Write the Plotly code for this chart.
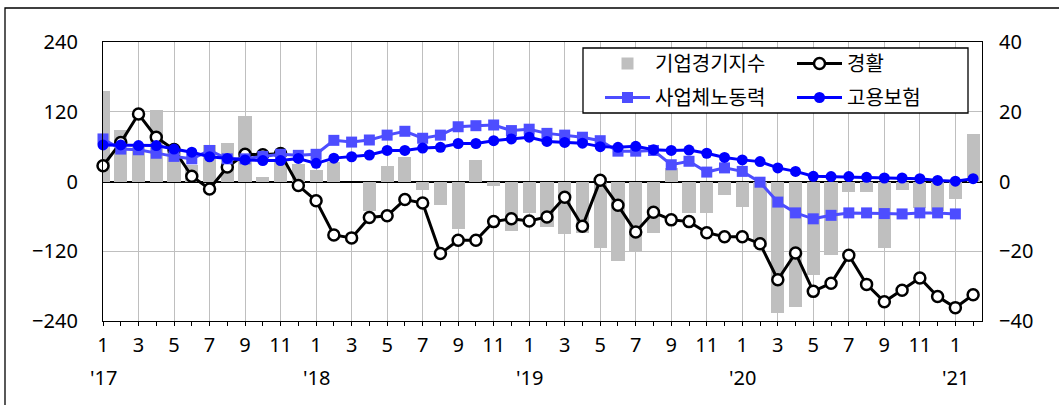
import plotly.graph_objects as go

# Monthly periods, Jan 2017 - Feb 2021
months = [f"{y}-{m:02d}" for y in range(2017, 2022) for m in range(1, 13)][:50]

# 기업경기지수 (left axis)
business_index = [156, 88, 60, 123, 55, 28, 62, 67, 113, 7, 38, 30,
                  20, 33, 0, -50, 27, 42, -14, -41, -81, 37, -7, -86,
                  -54, -79, -90, -89, -115, -137, -121, -88, 23, -55, -55, -23,
                  -44, -113, -227, -216, -160, -127, -18, -18, -114, -15, -46, -50,
                  -30, 82]

# 경활 (left axis)
labor_survey = [27, 67, 116, 76, 55, 9, -13, 25, 47, 46, 48, -7,
                -33, -92, -97, -62, -59, -31, -37, -124, -101, -101, -69, -64,
                -68, -61, -27, -77, 2, -41, -87, -53, -66, -69, -88, -95,
                -95, -107, -169, -123, -189, -175, -127, -177, -207, -187, -166, -198,
                -217, -195]

# 사업체노동력 (right axis)
establishment = [12.2, 9.3, 9.1, 8.1, 7.2, 6.5, 8.9, 6.5, 6.5, 7.2, 7.8, 7.5,
                 7.8, 11.8, 11.3, 11.9, 13.3, 14.4, 12.4, 13.3, 15.7, 16.0, 16.2, 14.6,
                 15.0, 13.8, 13.3, 12.7, 11.7, 8.7, 8.7, 8.9, 4.8, 5.8, 2.7, 3.9,
                 2.9, -0.2, -5.9, -9.0, -10.7, -9.7, -9.0, -9.0, -9.2, -9.3, -9.0, -9.0,
                 -9.3, None]

# 고용보험 (right axis)
insurance = [10.5, 10.5, 10.3, 10.3, 9.3, 8.4, 7.1, 6.6, 6.2, 6.0, 6.0, 6.6,
             5.2, 6.7, 7.1, 7.6, 8.9, 8.9, 9.6, 9.8, 10.9, 10.9, 11.7, 12.2,
             12.7, 11.5, 11.2, 11.0, 10.0, 9.8, 10.1, 9.1, 8.9, 9.0, 8.1, 6.9,
             6.2, 5.7, 3.9, 2.9, 1.5, 1.4, 1.4, 1.2, 1.0, 1.0, 0.8, 0.3,
             0.1, 0.8]

left_ticks = [-240, -120, 0, 120, 240]
right_ticks = [-40, -20, 0, 20, 40]

x = list(range(len(months)))
month_ticks = [i for i, m in enumerate(months) if int(m[5:]) % 2 == 1]
month_text = [str(int(months[i][5:])) for i in month_ticks]
year_ticks = [i for i, m in enumerate(months) if m.endswith("-01")]
year_text = ["'" + months[i][2:4] for i in year_ticks]

NUM_FONT = "Noto Sans, Liberation Sans, sans-serif"
KR_FONT = "Noto Sans CJK KR, sans-serif"
LIGHT_BLUE = "#4d4dff"
BLUE = "#0000ff"

fig = go.Figure()

fig.add_trace(go.Bar(
    x=x, y=business_index, name="기업경기지수", width=0.74,
    marker=dict(color="#bfbfbf", line=dict(width=0)),
    legend="legend", legendgroup="a",
))
fig.add_trace(go.Scatter(
    x=x, y=labor_survey, name="경활", mode="lines+markers", cliponaxis=False,
    line=dict(color="black", width=3),
    marker=dict(symbol="circle", size=11, color="white", line=dict(color="black", width=2.5)),
    legend="legend2", legendgroup="b",
))
fig.add_trace(go.Scatter(
    x=x, y=establishment, name="사업체노동력", yaxis="y2", mode="lines+markers", cliponaxis=False,
    line=dict(color=LIGHT_BLUE, width=3),
    marker=dict(symbol="square", size=11, color=LIGHT_BLUE),
    legend="legend", legendgroup="c",
))
fig.add_trace(go.Scatter(
    x=x, y=insurance, name="고용보험", yaxis="y2", mode="lines+markers", cliponaxis=False,
    line=dict(color=BLUE, width=3),
    marker=dict(symbol="circle", size=11, color=BLUE),
    legend="legend2", legendgroup="d",
))

L, R, T, B = 103, 77, 42, 84
W, H = 1059, 405
pw, ph = W - L - R, H - T - B


def px_x(p):
    return (p - L) / pw


def px_y(p):
    return (H - B - p) / ph


shapes = [
    # outer frame
    dict(type="rect", xref="paper", yref="paper", layer="below",
         x0=px_x(5), x1=px_x(1064), y0=px_y(410), y1=px_y(8),
         line=dict(color="black", width=1.3), fillcolor="rgba(0,0,0,0)"),
    # legend box
    dict(type="rect", xref="paper", yref="paper", layer="above",
         x0=px_x(583), x1=px_x(968), y0=px_y(113), y1=px_y(48),
         line=dict(color="black", width=1.3), fillcolor="white"),
]

annotations = [
    dict(x=xi, y=px_y(377), xref="x", yref="paper", text=t, showarrow=False,
         xanchor="center", yanchor="middle", font=dict(family=NUM_FONT, size=20, color="black"))
    for xi, t in zip(year_ticks, year_text)
]

legend_common = dict(
    xanchor="left", yanchor="top", bgcolor="rgba(0,0,0,0)", borderwidth=0,
    font=dict(family=KR_FONT, size=20, color="black"), itemwidth=45,
    traceorder="grouped", tracegroupgap=5,
)

fig.update_layout(
    width=W, height=H,
    margin=dict(l=L, r=R, t=T, b=B, pad=0),
    paper_bgcolor="white", plot_bgcolor="white",
    bargap=0, showlegend=True,
    legend=dict(x=px_x(600), y=px_y(44), **legend_common),
    legend2=dict(x=px_x(792), y=px_y(44), **legend_common),
    shapes=shapes, annotations=annotations,
    xaxis=dict(
        range=[0, len(months) - 0.5], tickmode="array",
        tickvals=month_ticks, ticktext=month_text,
        showgrid=True, gridcolor="#bfbfbf", gridwidth=1,
        showline=True, linecolor="black", linewidth=1.3, mirror=True,
        ticks="outside", ticklen=4, tickcolor="black", ticklabelstandoff=2,
        minor=dict(dtick=1, tick0=0, ticks="outside", ticklen=4, tickcolor="black", showgrid=False),
        tickfont=dict(family=NUM_FONT, size=20, color="black"),
        zeroline=False,
    ),
    yaxis=dict(
        range=[-240, 240], tickmode="array", tickvals=left_ticks,
        showgrid=True, gridcolor="#bfbfbf", gridwidth=1,
        zeroline=True, zerolinecolor="black", zerolinewidth=1.5,
        showline=True, linecolor="black", linewidth=1.3, mirror=True,
        ticks="", ticklabelstandoff=20,
        tickfont=dict(family=NUM_FONT, size=20, color="black"),
    ),
    yaxis2=dict(
        range=[-40, 40], tickmode="array", tickvals=right_ticks,
        overlaying="y", side="right", showgrid=False, zeroline=False,
        ticks="", ticklabelstandoff=16,
        tickfont=dict(family=NUM_FONT, size=20, color="black"),
    ),
)

fig.write_html("out.html")
